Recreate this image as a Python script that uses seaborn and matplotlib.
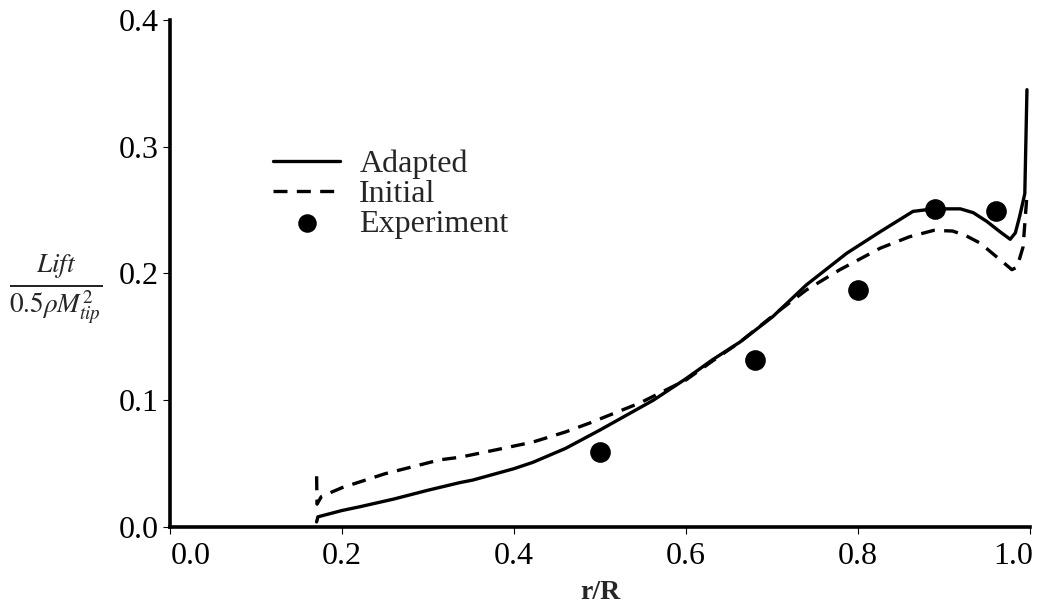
import numpy as np
import pandas as pd
import matplotlib
matplotlib.use("Agg")
import matplotlib.pyplot as plt
import matplotlib.transforms as mtransforms
import seaborn as sns

# Spanwise lift distribution
adapted_r = [0.1705, 0.172, 0.20, 0.221, 0.26, 0.30, 0.337, 0.352, 0.40, 0.422, 0.46,
             0.50, 0.562, 0.60, 0.631, 0.663, 0.701, 0.74, 0.787, 0.826, 0.864,
             0.888, 0.919, 0.934, 0.95, 0.965, 0.977, 0.983, 0.988, 0.994, 0.9965]
adapted_lift = [0.004, 0.008, 0.013, 0.016, 0.022, 0.029, 0.035, 0.037, 0.046, 0.051, 0.062,
                0.0765, 0.100, 0.117, 0.132, 0.146, 0.166, 0.191, 0.216, 0.233, 0.249,
                0.251, 0.251, 0.248, 0.241, 0.233, 0.227, 0.232, 0.245, 0.263, 0.345]

initial_r = [0.1705, 0.171, 0.176, 0.20, 0.25, 0.314, 0.337, 0.38, 0.422, 0.46, 0.488,
             0.547, 0.60, 0.631, 0.663, 0.709, 0.74, 0.779, 0.826, 0.860, 0.888,
             0.910, 0.925, 0.942, 0.965, 0.979, 0.985, 0.992, 0.9965]
initial_lift = [0.040, 0.018, 0.024, 0.031, 0.042, 0.053, 0.055, 0.061, 0.067, 0.075, 0.082,
                0.098, 0.116, 0.131, 0.146, 0.171, 0.187, 0.203, 0.220, 0.229, 0.234,
                0.2335, 0.230, 0.224, 0.211, 0.203, 0.205, 0.221, 0.262]

exp_r = [0.50, 0.68, 0.80, 0.89, 0.96]
exp_lift = [0.059, 0.132, 0.187, 0.251, 0.249]

sns.set_style("ticks")
plt.rcParams['font.family'] = ['Liberation Serif', 'DejaVu Serif']
plt.rcParams['mathtext.fontset'] = 'stix'

fig = plt.figure(figsize=(10.39, 6.06), dpi=100)
ax = fig.add_axes([0.1636, 0.1304, 0.8277, 0.8366])

adapted = pd.DataFrame({'r': adapted_r, 'lift': adapted_lift})
initial = pd.DataFrame({'r': initial_r, 'lift': initial_lift})
exp = pd.DataFrame({'r': exp_r, 'lift': exp_lift})

sns.lineplot(data=adapted, x='r', y='lift', sort=False, estimator=None,
             color='black', lw=2.4, ax=ax, label='Adapted')
sns.lineplot(data=initial, x='r', y='lift', sort=False, estimator=None,
             color='black', lw=2.4, ax=ax, label='Initial')
ax.lines[-1].set_dashes((4.2, 2.8))
sns.scatterplot(data=exp, x='r', y='lift', color='black', s=190,
                edgecolor='black', ax=ax, label='Experiment', zorder=5)

ax.set_xlim(0, 1.0)
ax.set_ylim(0, 0.4)
ax.set_xticks(np.arange(0, 1.01, 0.2))
ax.set_yticks(np.arange(0, 0.41, 0.1))
ax.set_xticklabels([f"{v:.1f}" for v in np.arange(0, 1.01, 0.2)])
ax.set_yticklabels([f"{v:.1f}" for v in np.arange(0, 0.41, 0.1)])
ax.tick_params(axis='both', labelsize=23, direction='out', length=5, width=0.8,
               colors='black')
ax.tick_params(axis='x', pad=6)
ax.tick_params(axis='y', pad=3)

# nudge end labels inward like the original
xl = ax.get_xticklabels()
xl[0].set_transform(xl[0].get_transform() + mtransforms.ScaledTranslation(0.21, 0, fig.dpi_scale_trans))
xl[-1].set_transform(xl[-1].get_transform() + mtransforms.ScaledTranslation(-0.17, 0, fig.dpi_scale_trans))

for s in ['left', 'bottom']:
    ax.spines[s].set_linewidth(2.6)
    ax.spines[s].set_color('black')
sns.despine(ax=ax)

ax.set_xlabel('r/R', fontsize=20, fontweight='bold', labelpad=6)
ax.set_ylabel(r'$\frac{\mathit{Lift}}{0.5\rho M_{tip}^{2}}$', fontsize=28,
              rotation=0, va='center')
ax.yaxis.set_label_coords(-0.133, 0.47)

leg = ax.legend(loc='upper left', bbox_to_anchor=(0.105, 0.77), frameon=False,
                fontsize=23, handlelength=2.1, handletextpad=0.6,
                labelspacing=0.02, borderaxespad=0)
for h in leg.legend_handles:
    if hasattr(h, 'set_sizes'):
        h.set_sizes([150])

fig.savefig('out.png', dpi=100, facecolor='white')
